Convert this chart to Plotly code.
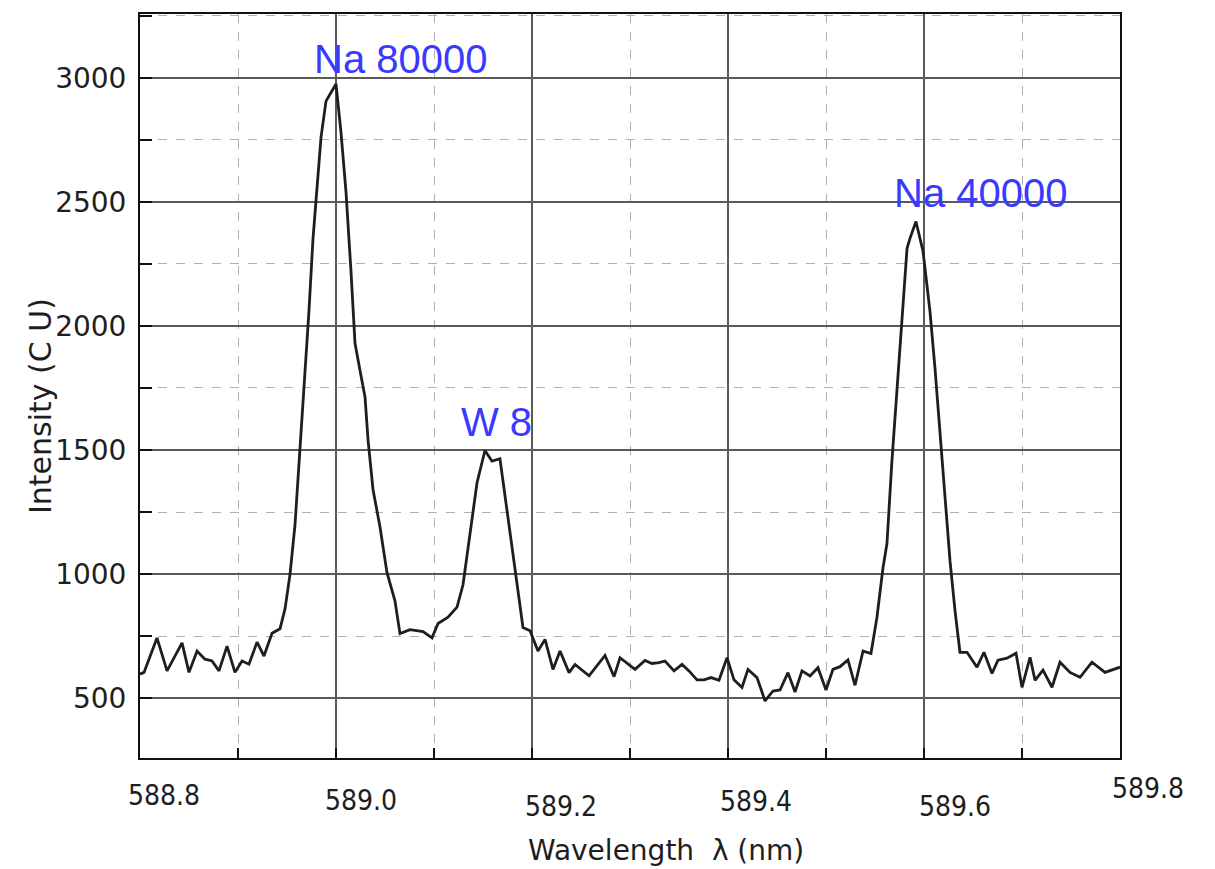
import plotly.graph_objects as go

# Wavelength (nm) and intensity (C U)
wavelength = [
    588.8000, 588.8041, 588.8173, 588.8276, 588.8429, 588.8500, 588.8582, 588.8663,
    588.8735, 588.8806, 588.8888, 588.8969, 588.9041, 588.9112, 588.9194, 588.9265,
    588.9347, 588.9429, 588.9480, 588.9531, 588.9582, 588.9633, 588.9684, 588.9724,
    588.9765, 588.9806, 588.9847, 588.9898, 588.9939, 589.0000, 589.0051, 589.0102,
    589.0153, 589.0194, 589.0245, 589.0296, 589.0327, 589.0378, 589.0449, 589.0520,
    589.0602, 589.0653, 589.0755, 589.0888, 589.0980, 589.1041, 589.1143, 589.1235,
    589.1296, 589.1367, 589.1439, 589.1520, 589.1592, 589.1673, 589.1735, 589.1827,
    589.1908, 589.1980, 589.2061, 589.2133, 589.2214, 589.2286, 589.2378, 589.2439,
    589.2582, 589.2745, 589.2837, 589.2898, 589.3051, 589.3153, 589.3224, 589.3296,
    589.3357, 589.3449, 589.3531, 589.3602, 589.3684, 589.3755, 589.3827, 589.3908,
    589.3990, 589.4061, 589.4143, 589.4204, 589.4296, 589.4378, 589.4459, 589.4531,
    589.4612, 589.4684, 589.4755, 589.4837, 589.4918, 589.5000, 589.5071, 589.5143,
    589.5224, 589.5296, 589.5378, 589.5459, 589.5520, 589.5582, 589.5622, 589.5673,
    589.5724, 589.5776, 589.5827, 589.5857, 589.5918, 589.5990, 589.6061, 589.6112,
    589.6163, 589.6214, 589.6265, 589.6316, 589.6367, 589.6439, 589.6541, 589.6612,
    589.6694, 589.6755, 589.6847, 589.6939, 589.7000, 589.7082, 589.7133, 589.7214,
    589.7306, 589.7388, 589.7490, 589.7592, 589.7714, 589.7847, 589.8000,
]
intensity = [
    597, 604, 743, 610, 723, 604, 690, 657,
    650, 610, 710, 604, 650, 637, 726, 670,
    762, 780, 860, 1000, 1200, 1500, 1780, 2060,
    2350, 2560, 2760, 2906, 2935, 2975, 2780, 2540,
    2220, 1930, 1820, 1714, 1540, 1340, 1190, 1007,
    891, 760, 776, 768, 743, 801, 826, 867,
    957, 1171, 1368, 1498, 1455, 1465, 1286, 1000,
    785, 772, 690, 737, 616, 690, 603, 636,
    590, 672, 587, 663, 616, 652, 640, 643,
    650, 610, 636, 610, 574, 574, 583, 572,
    663, 574, 543, 616, 583, 489, 529, 533,
    603, 525, 610, 590, 623, 533, 616, 627,
    654, 552, 690, 680, 826, 1027, 1123, 1457,
    1738, 1991, 2313, 2353, 2421, 2301, 2059, 1830,
    1565, 1296, 1055, 854, 685, 685, 625, 685,
    600, 653, 661, 681, 544, 665, 572, 613,
    544, 645, 604, 584, 645, 604, 625,
]

# Peak labels
peak_labels = ["Na 80000", "W 8", "Na 40000"]
peak_x = [589.066, 589.164, 589.658]
peak_y = [3076, 1613, 2534]

# Axis ticks
x_tick_vals = [588.8, 589.0, 589.2, 589.4, 589.6, 589.8]
x_tick_text = ["588.8", "589.0", "589.2", "589.4", "589.6", "589.8"]
y_tick_vals = [500, 1000, 1500, 2000, 2500, 3000]

# label offsets (pixels) imitating the staggered labels of the original
x_label_dx = [24, 25, 29, 28, 31, 28]
x_label_dy = [-37, -42, -48, -43, -48, -30]

fig = go.Figure()
fig.add_trace(go.Scatter(
    x=wavelength, y=intensity, mode="lines",
    line=dict(color="#1e1e1e", width=2.8), showlegend=False, hoverinfo="skip",
))

for t, xv, yv in zip(peak_labels, peak_x, peak_y):
    fig.add_annotation(x=xv, y=yv, text=t, showarrow=False,
                       font=dict(family="Liberation Sans, Arial", size=40, color="#3a3aff"),
                       xanchor="center", yanchor="middle")

for xv, txt, dx, dy in zip(x_tick_vals, x_tick_text, x_label_dx, x_label_dy):
    fig.add_annotation(x=xv, y=0, xref="x", yref="paper", text=txt, showarrow=False,
                       xshift=dx, yshift=dy, xanchor="center", yanchor="middle",
                       font=dict(family="DejaVu Sans Condensed, DejaVu Sans", size=28, color="#1e1e1e"))

fig.add_annotation(x=0.5, y=0, xref="paper", yref="paper", xshift=36, yshift=-92,
                   text="Wavelength  λ (nm)", showarrow=False, xanchor="center", yanchor="middle",
                   font=dict(family="DejaVu Sans", size=28, color="#1e1e1e"))

fig.add_annotation(x=0, y=0.473, xref="paper", yref="paper", xshift=-100,
                   text="Intensity (C U)", showarrow=False, textangle=-90,
                   xanchor="center", yanchor="middle",
                   font=dict(family="DejaVu Sans", size=30, color="#1e1e1e"))

fig.update_layout(
    width=1215, height=869,
    margin=dict(l=140, r=95, t=12, b=111),
    paper_bgcolor="white", plot_bgcolor="white",
    font=dict(family="DejaVu Sans", color="#222222"),
)

fig.update_xaxes(
    range=[588.8, 589.8], tickvals=x_tick_vals, showticklabels=False,
    ticks="inside", ticklen=10, tickwidth=2, tickcolor="#111111",
    showline=True, linecolor="#111111", linewidth=2, mirror=True,
    showgrid=True, gridcolor="#5a5a5a", gridwidth=1.5, zeroline=False,
    minor=dict(dtick=0.1, tick0=588.8, ticks="inside", ticklen=10, tickwidth=2, tickcolor="#111111",
               showgrid=True, gridcolor="#b0b0b0", gridwidth=1, griddash="dash"),
)
fig.update_yaxes(
    range=[259, 3257], tickvals=y_tick_vals,
    tickfont=dict(family="DejaVu Sans", size=28, color="#1e1e1e"),
    ticks="inside", ticklen=12, tickwidth=2, tickcolor="#111111", ticklabelstandoff=6,
    showline=True, linecolor="#111111", linewidth=2, mirror=True,
    showgrid=True, gridcolor="#5a5a5a", gridwidth=1.5, zeroline=False,
    minor=dict(dtick=250, tick0=0, ticks="inside", ticklen=12, tickwidth=2, tickcolor="#111111",
               showgrid=True, gridcolor="#b0b0b0", gridwidth=1, griddash="dash"),
)

fig.write_html("out.html")
